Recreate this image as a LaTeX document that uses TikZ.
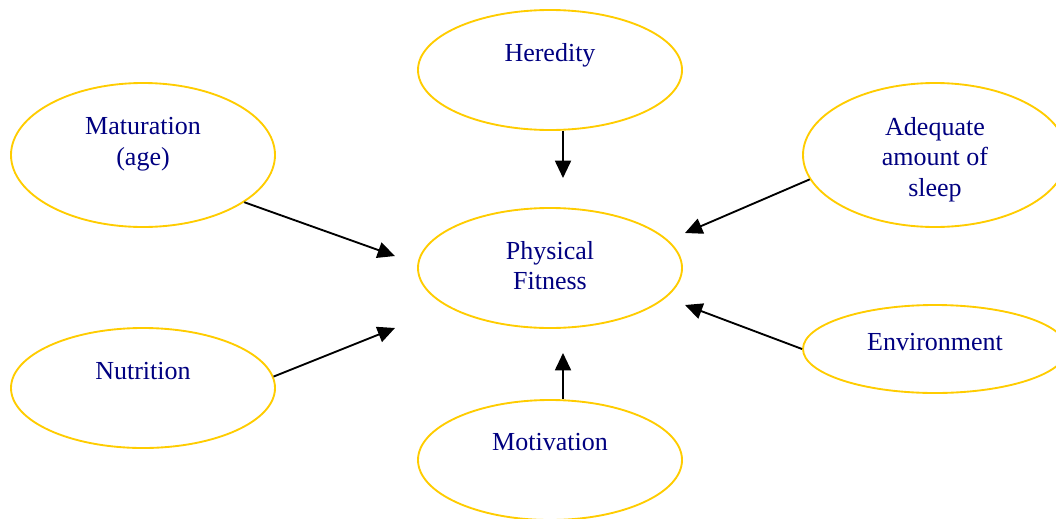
\documentclass[tikz,border=0pt]{standalone}
\usepackage{fontspec}
\setmainfont{Liberation Serif}
\usetikzlibrary{arrows.meta, shapes.geometric}
\definecolor{gold}{HTML}{FFCC00}
\definecolor{navytext}{HTML}{000080}

\begin{document}
\begin{tikzpicture}[x=0.75pt, y=-0.75pt,
                factor/.style = {
                    ellipse,
                    draw=gold,
                    line width=1.4pt, inner sep=0pt,
                    minimum width=198pt, minimum height=90pt
                },
                tall/.style = {minimum height=108pt},
                flat/.style = {minimum height=66pt},
                lbl/.style = {
                    anchor=north, inner sep=0pt,
                    text=navytext, align=center,
                    font=\fontsize{19.5}{23}\selectfont
                },
                arrow/.style = {
                    draw, -{Triangle[length=13pt, width=12pt]},
                    line width=1.4pt
                }
                ]

                \clip (0,0) rectangle (1056,518);

                \node[factor] (fitness) at (550,268) {};
                \node[factor] (hered) at (550,70) {};
                \node[factor, tall] (matur) at (143,155) {};
                \node[factor, tall] (adeq) at (935,155) {};
                \node[factor] (nutri) at (143,388) {};
                \node[factor, flat] (envir) at (935,349) {};
                \node[factor] (motiv) at (550,460) {};

                \node[lbl] (fitness-t) at (550,241) {Physical\\Fitness};
                \node[lbl] (hered-t) at (550,43) {Heredity};
                \node[lbl] (matur-t) at (143,117) {Maturation\\(age)};
                \node[lbl] (adeq-t) at (935,117) {Adequate\\amount of\\sleep};
                \node[lbl] (nutri-t) at (143,362) {Nutrition};
                \node[lbl] (envir-t) at (935,333) {Environment};
                \node[lbl] (motiv-t) at (550,433) {Motivation};

                \coordinate (tip-her) at (563,178);
                \coordinate (tip-mat) at (395,256);
                \coordinate (tip-nut) at (395,328);
                \coordinate (tip-adq) at (685,233);
                \coordinate (tip-env) at (685,305);
                \coordinate (tip-mot) at (563,353);

                \path[arrow] (hered.south -| tip-her)--(tip-her);
                \path[arrow] (matur.-25)--(tip-mat);
                \path[arrow] (nutri.5)--(tip-nut);
                \path[arrow] (adeq.191)--(tip-adq);
                \path[arrow] (envir.west)--(tip-env);
                \path[arrow] (motiv.north -| tip-mot)--(tip-mot);
\end{tikzpicture}
\end{document}
